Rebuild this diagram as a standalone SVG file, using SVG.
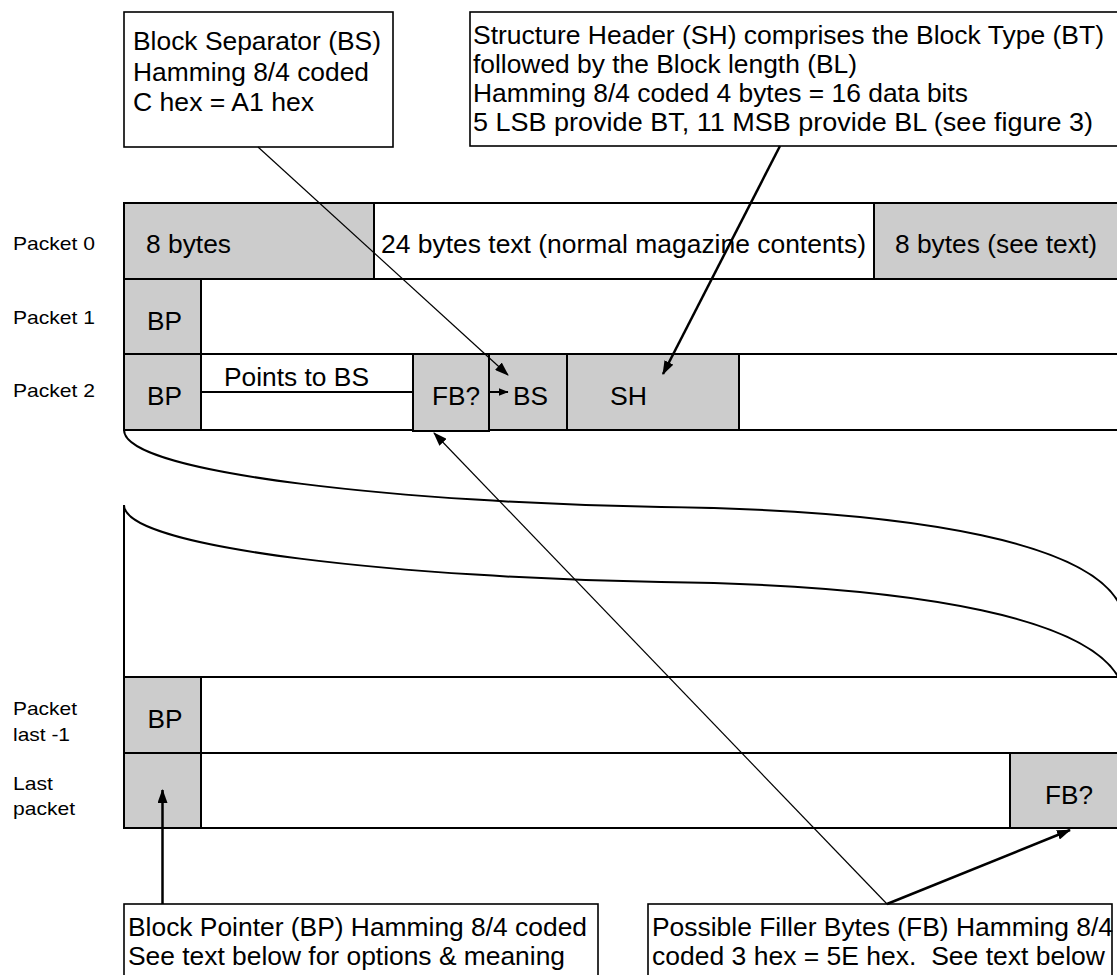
<svg xmlns="http://www.w3.org/2000/svg" width="1117" height="975" viewBox="0 0 1117 975">
<style>
.t{font-family:"Liberation Sans",Arial,sans-serif;font-size:25px;fill:#000}
.l{font-family:"Liberation Sans",Arial,sans-serif;font-size:19px;fill:#000}
.g{fill:#cccccc;stroke:#000;stroke-width:2}
.w{fill:#fff;stroke:#000;stroke-width:2}
.box{fill:#fff;stroke:#000;stroke-width:1.6}
.thin{stroke:#000;stroke-width:1.2;fill:none}
.thick{stroke:#000;stroke-width:2.5;fill:none}
.curve{stroke:#000;stroke-width:2;fill:none}
</style>
<defs>
<marker id="ah" viewBox="0 0 14 10" refX="13" refY="5" markerWidth="14" markerHeight="10" markerUnits="userSpaceOnUse" orient="auto"><path d="M0,0 L14,5 L0,10 z" fill="#000"/></marker>
<marker id="ahs" viewBox="0 0 10 8" refX="9.5" refY="4" markerWidth="10" markerHeight="8" markerUnits="userSpaceOnUse" orient="auto"><path d="M0,0 L10,4 L0,8 z" fill="#000"/></marker>
</defs>
<rect width="1117" height="975" fill="#fff"/>

<g id="bs-note">
<rect class="box" x="124" y="12" width="269" height="135"/>
<text class="t" x="133" y="50" textLength="248" lengthAdjust="spacingAndGlyphs">Block Separator (BS)</text>
<text class="t" x="133" y="81" textLength="236" lengthAdjust="spacingAndGlyphs">Hamming 8/4 coded</text>
<text class="t" x="133" y="111" textLength="181" lengthAdjust="spacingAndGlyphs">C hex = A1 hex</text>
</g>

<g id="sh-note">
<rect class="box" x="470" y="12" width="660" height="134"/>
<text class="t" x="473" y="43.5" textLength="631" lengthAdjust="spacingAndGlyphs">Structure Header (SH) comprises the Block Type (BT)</text>
<text class="t" x="473" y="72.5" textLength="384" lengthAdjust="spacingAndGlyphs">followed by the Block length (BL)</text>
<text class="t" x="473" y="101.5" textLength="495" lengthAdjust="spacingAndGlyphs">Hamming 8/4 coded 4 bytes = 16 data bits</text>
<text class="t" x="473" y="130.5" textLength="620" lengthAdjust="spacingAndGlyphs">5 LSB provide BT, 11 MSB provide BL (see figure 3)</text>
</g>

<g id="packet0">
<text class="l" x="13" y="250" textLength="82" lengthAdjust="spacingAndGlyphs">Packet 0</text>
<rect class="w" x="124" y="203" width="1000" height="76"/>
<rect class="g" x="124" y="203" width="250" height="76"/>
<rect class="g" x="874" y="203" width="250" height="76"/>
<text class="t" x="146" y="253" textLength="85" lengthAdjust="spacingAndGlyphs">8 bytes</text>
<text class="t" x="381" y="253" textLength="485" lengthAdjust="spacingAndGlyphs">24 bytes text (normal magazine contents)</text>
<text class="t" x="895" y="253" textLength="202" lengthAdjust="spacingAndGlyphs">8 bytes (see text)</text>
</g>

<g id="packet1">
<text class="l" x="13" y="323.5" textLength="82" lengthAdjust="spacingAndGlyphs">Packet 1</text>
<rect class="w" x="124" y="279" width="1000" height="75"/>
<rect class="g" x="124" y="279" width="77" height="75"/>
<text class="t" x="147" y="330" textLength="35" lengthAdjust="spacingAndGlyphs">BP</text>
</g>

<g id="packet2">
<text class="l" x="13" y="397" textLength="82" lengthAdjust="spacingAndGlyphs">Packet 2</text>
<rect class="w" x="124" y="354" width="1000" height="76"/>
<rect class="g" x="124" y="354" width="77" height="76"/>
<text class="t" x="147" y="405" textLength="35" lengthAdjust="spacingAndGlyphs">BP</text>
<text class="t" x="224" y="386" textLength="145" lengthAdjust="spacingAndGlyphs">Points to BS</text>
<rect class="g" x="413" y="354" width="76" height="77"/>
<text class="t" x="432" y="405" textLength="48" lengthAdjust="spacingAndGlyphs">FB?</text>
<rect class="g" x="489" y="354" width="78" height="76"/>
<text class="t" x="513" y="405" textLength="35" lengthAdjust="spacingAndGlyphs">BS</text>
<rect class="g" x="567" y="354" width="172" height="76"/>
<text class="t" x="610" y="405" textLength="37" lengthAdjust="spacingAndGlyphs">SH</text>
</g>

<g id="break">
<path class="curve" d="M124,430 C124,475 420,503 661,507 C900,510 1122,540 1125,625"/>
<path class="curve" d="M124,505 C124,550 420,578 661,582 C900,585 1122,615 1125,700"/>
<path class="curve" d="M124,505 V677"/>
</g>

<g id="packet-last-1">
<text class="l" x="13" y="715" textLength="64" lengthAdjust="spacingAndGlyphs">Packet</text>
<text class="l" x="13" y="741" textLength="57" lengthAdjust="spacingAndGlyphs">last -1</text>
<rect class="w" x="124" y="677" width="1000" height="76"/>
<rect class="g" x="124" y="677" width="77" height="76"/>
<text class="t" x="147.5" y="728" textLength="35" lengthAdjust="spacingAndGlyphs">BP</text>
</g>

<g id="packet-last">
<text class="l" x="13" y="790" textLength="40" lengthAdjust="spacingAndGlyphs">Last</text>
<text class="l" x="13" y="815" textLength="62" lengthAdjust="spacingAndGlyphs">packet</text>
<rect class="w" x="124" y="753" width="1000" height="75"/>
<rect class="g" x="124" y="753" width="77" height="75"/>
<rect class="g" x="1010" y="753" width="114" height="75"/>
<text class="t" x="1045" y="804" textLength="48" lengthAdjust="spacingAndGlyphs">FB?</text>
</g>

<g id="bp-note">
<rect class="box" x="124" y="904" width="474" height="80"/>
<text class="t" x="128" y="936" textLength="459" lengthAdjust="spacingAndGlyphs">Block Pointer (BP) Hamming 8/4 coded</text>
<text class="t" x="128" y="965" textLength="437" lengthAdjust="spacingAndGlyphs">See text below for options &amp; meaning</text>
</g>

<g id="fb-note">
<rect class="box" x="648" y="904" width="464" height="80"/>
<text class="t" x="652" y="936" textLength="461" lengthAdjust="spacingAndGlyphs">Possible Filler Bytes (FB) Hamming 8/4</text>
<text class="t" x="652" y="965" textLength="453" lengthAdjust="spacingAndGlyphs" xml:space="preserve">coded 3 hex = 5E hex.  See text below</text>
</g>

<g id="connectors">
<path class="thin" d="M258,147 L508,375" marker-end="url(#ah)"/>
<path class="thick" d="M780,146 L663,374" marker-end="url(#ah)"/>
<path class="curve" d="M201,392 H413"/>
<path class="curve" d="M490,392 H508" marker-end="url(#ahs)"/>
<path class="thin" d="M887,904 L434,433" marker-end="url(#ah)"/>
<path class="thick" d="M887,904 L1070,830" marker-end="url(#ah)"/>
<path class="thick" d="M162.5,904 V790" marker-end="url(#ah)"/>
</g>
</svg>
